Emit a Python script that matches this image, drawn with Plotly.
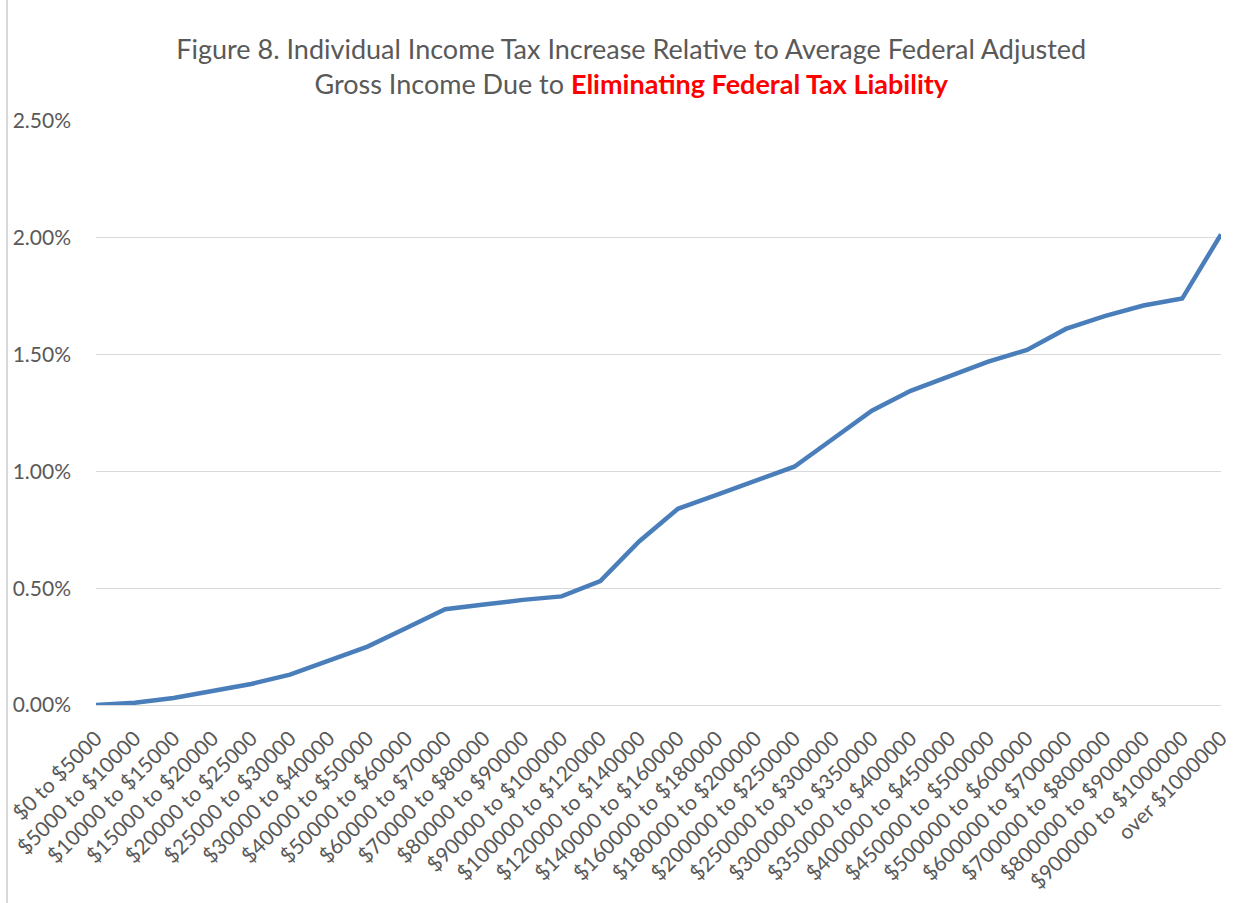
import plotly.graph_objects as go

brackets = [
    "$0 to $5000", "$5000 to $10000", "$10000 to $15000", "$15000 to $20000",
    "$20000 to $25000", "$25000 to $30000", "$30000 to $40000", "$40000 to $50000",
    "$50000 to $60000", "$60000 to $70000", "$70000 to $80000", "$80000 to $90000",
    "$90000 to $100000", "$100000 to $120000", "$120000 to $140000",
    "$140000 to $160000", "$160000 to $180000", "$180000 to $200000",
    "$200000 to $250000", "$250000 to $300000", "$300000 to $350000",
    "$350000 to $400000", "$400000 to $450000", "$450000 to $500000",
    "$500000 to $600000", "$600000 to $700000", "$700000 to $800000",
    "$800000 to $900000", "$900000 to $1000000", "over $1000000",
]

# tax increase as share of average federal AGI
tax_increase = [
    0.0000, 0.0001, 0.0003, 0.0006, 0.0009, 0.0013, 0.0019, 0.0025,
    0.0033, 0.0041, 0.0043, 0.0045, 0.00465, 0.0053, 0.0070, 0.0084,
    0.0090, 0.0096, 0.0102, 0.0114, 0.0126, 0.01345, 0.0141, 0.0147,
    0.0152, 0.0161, 0.01665, 0.0171, 0.0174, 0.02015,
]

y_ticks = [0, 0.005, 0.01, 0.015, 0.02, 0.025]

font = "Lato, 'Open Sans', sans-serif"

fig = go.Figure()

fig.add_trace(
    go.Scatter(
        x=list(range(len(brackets))),
        y=tax_increase,
        mode="lines",
        line=dict(color="#4a7ebb", width=4.5),
        hoverinfo="skip",
    )
)

fig.update_layout(
    width=1250,
    height=903,
    paper_bgcolor="white",
    plot_bgcolor="white",
    showlegend=False,
    margin=dict(l=96, r=29, t=121, b=198),
    title=dict(
        text="Figure 8. Individual Income Tax Increase Relative to Average Federal Adjusted<br>"
        "Gross Income Due to <b><span style='color:#ff0000'>Eliminating Federal Tax Liability</span></b>",
        x=0.505,
        xanchor="center",
        y=0.935,
        yanchor="top",
        font=dict(family=font, size=27, color="#595959"),
    ),
    xaxis=dict(
        tickmode="array",
        tickvals=list(range(len(brackets))),
        ticktext=brackets,
        tickangle=-45,
        range=[0, len(brackets) - 1],
        showgrid=False,
        zeroline=False,
        showline=False,
        ticks="",
        automargin=False,
        ticklabelstandoff=16,
        tickfont=dict(family=font, size=21, color="#595959"),
    ),
    yaxis=dict(
        range=[0, 0.025],
        tickvals=y_ticks,
        tickformat=".2%",
        showgrid=True,
        gridcolor="#d9d9d9",
        gridwidth=1,
        zeroline=True,
        zerolinecolor="#d9d9d9",
        zerolinewidth=1,
        ticks="",
        automargin=False,
        ticklabelstandoff=24,
        tickfont=dict(family=font, size=21, color="#595959"),
    ),
)

# chart frame on the left edge
fig.add_shape(
    type="line",
    xref="paper",
    yref="paper",
    x0=-89 / 1125,
    x1=-89 / 1125,
    y0=-198 / 584,
    y1=1 + 121 / 584,
    line=dict(color="#d9d9d9", width=2),
)

fig.write_html(
    "out.html",
    config={"displayModeBar": False},
    post_script="document.body.style.margin='0';",
)
